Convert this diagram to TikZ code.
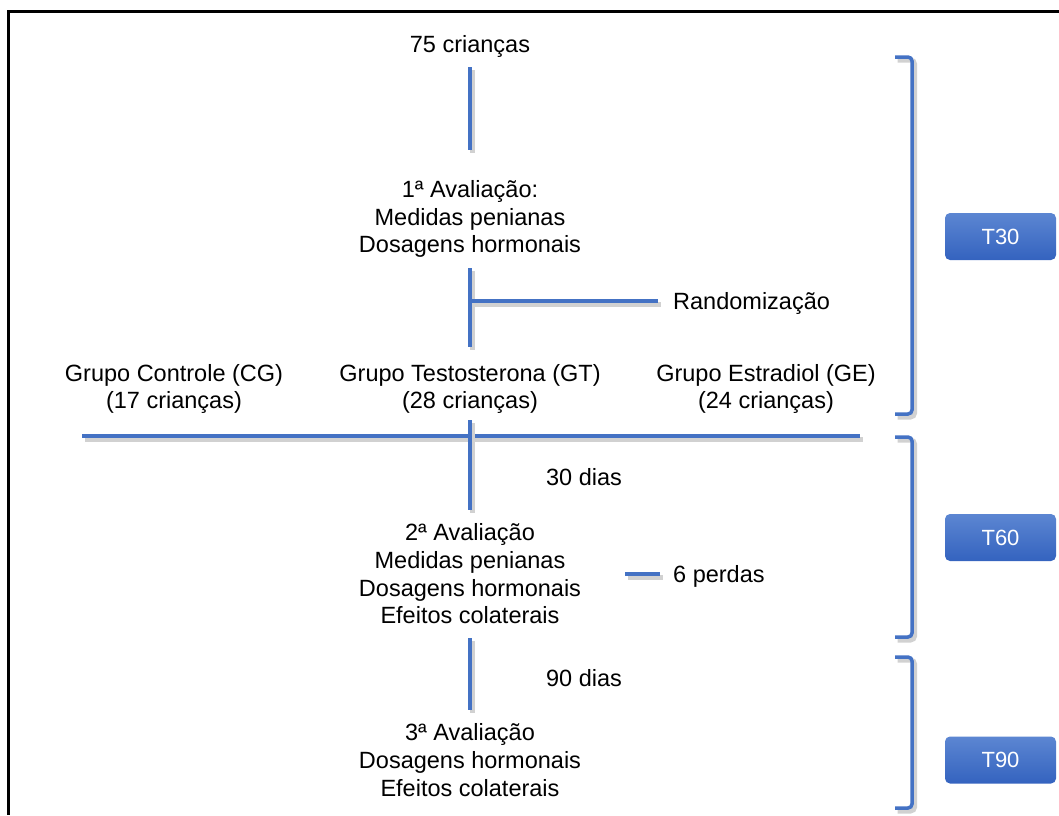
\documentclass[tikz,border=0pt]{standalone}
\usepackage{fontspec}
\setmainfont{Liberation Sans}
\definecolor{lineblue}{HTML}{4472C4}
\definecolor{boxtop}{HTML}{5C86D2}
\definecolor{boxbot}{HTML}{3463BF}
\begin{document}
\begin{tikzpicture}[x=1pt,y=-1pt,
    txt/.style={align=center,inner sep=0pt,font=\fontsize{23.5}{27.7}\selectfont},
    cline/.style={line width=4pt,draw=lineblue,
      preaction={draw=black!18,line width=5pt,transform canvas={shift={(2.5pt,-3pt)}}}},
    brk/.style={cline,line width=3.5pt,rounded corners=4pt},
    tbox/.style={rounded corners=5pt,top color=boxtop,bottom color=boxbot,text=white,
      minimum width=111pt,minimum height=47pt,inner sep=0pt,font=\fontsize{22}{26}\selectfont}]
    \useasboundingbox (0,0) rectangle (1059,815);
    \draw[line width=3pt] (1059,11) -- (8,11) -- (8,815);
    % texts
    \node[txt] (n75) at (470,46) {75 crianças};
    \node[txt] (ava1) at (470,219) {1ª Avaliação:\\Medidas penianas\\Dosagens hormonais};
    \node[txt,anchor=west] (rand) at (673,303) {Randomização};
    \node[txt] (gcg) at (174,389) {Grupo Controle (CG)\\(17 crianças)};
    \node[txt] (ggt) at (470,389) {Grupo Testosterona (GT)\\(28 crianças)};
    \node[txt] (gge) at (766,389) {Grupo Estradiol (GE)\\(24 crianças)};
    \node[txt] (d30) at (584,477) {30 dias};
    \node[txt] (ava2) at (470,574) {2ª Avaliação\\Medidas penianas\\Dosagens hormonais\\Efeitos colaterais};
    \node[txt,anchor=west] (perdas) at (673,576) {6 perdas};
    \node[txt] (d90) at (584,678) {90 dias};
    \node[txt] (ava3) at (470,760) {3ª Avaliação\\Dosagens hormonais\\Efeitos colaterais};
    % connectors
    \coordinate (a1) at (470,67);
    \coordinate (a2) at (470,150);
    \coordinate (b1) at (470,268);
    \coordinate (b2) at (470,347);
    \coordinate (br) at (470,301);
    \coordinate (rr) at (658,301);
    \coordinate (h1) at (82,436);
    \coordinate (h2) at (860,436);
    \coordinate (c1) at (470,420);
    \coordinate (c2) at (470,510);
    \coordinate (p1) at (625,574);
    \coordinate (p2) at (660,574);
    \coordinate (e1) at (470,638);
    \coordinate (e2) at (470,710);
    \draw[cline] (a1) -- (a2);
    \draw[cline] (b1) -- (b2);
    \draw[cline] (br) -- (rr);
    \draw[cline] (h1) -- (h2);
    \draw[cline] (c1) -- (c2);
    \draw[cline] (p1) -- (p2);
    \draw[cline] (e1) -- (e2);
    % brackets
    \draw[brk] (895,57) -| (912,414) -- (895,414);
    \draw[brk] (895,437) -| (912,637) -- (895,637);
    \draw[brk] (895,657) -| (912,808) -- (895,808);
    \node[tbox] (t30) at (1000.5,236.5) {T30};
    \node[tbox] (t60) at (1000.5,537.5) {T60};
    \node[tbox] (t90) at (1000.5,760) {T90};
\end{tikzpicture}
\end{document}
